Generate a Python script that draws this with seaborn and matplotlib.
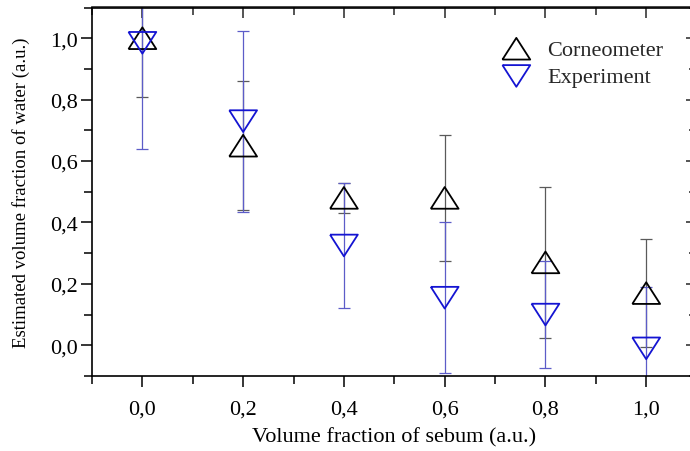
import matplotlib
matplotlib.use('Agg')
import matplotlib.pyplot as plt
import seaborn as sns
from matplotlib.ticker import MultipleLocator, FixedLocator, FuncFormatter

# Values
sebum = [0.0, 0.2, 0.4, 0.6, 0.8, 1.0]
corneometer = [1.00, 0.65, 0.48, 0.48, 0.27, 0.17]
corneometer_err = [0.19, 0.21, 0.05, 0.205, 0.245, 0.175]
experiment = [0.985, 0.73, 0.325, 0.155, 0.10, -0.01]
experiment_err = [0.345, 0.295, 0.205, 0.245, 0.175, 0.20]

x_ticks = [0.0, 0.2, 0.4, 0.6, 0.8, 1.0]
y_ticks = [0.0, 0.2, 0.4, 0.6, 0.8, 1.0]

sns.set_theme(style='ticks')
plt.rcParams['font.family'] = ['Liberation Serif', 'DejaVu Serif']

fig = plt.figure(figsize=(6.9, 4.52), dpi=100)
ax = fig.add_axes([92 / 690, 1 - 377 / 452, (696.6 - 92) / 690, (377 - 8.5) / 452])

# error bars first, markers on top
ax.errorbar(sebum, corneometer, yerr=corneometer_err, fmt='none',
            ecolor='#5a5a5a', elinewidth=0.9, capsize=4.6, capthick=0.9, zorder=1)
ax.errorbar(sebum, experiment, yerr=experiment_err, fmt='none',
            ecolor='#5c5cc8', elinewidth=0.9, capsize=4.6, capthick=0.9, zorder=2)

up_tri = [(-1, -0.78), (1, -0.78), (0, 0.78), (-1, -0.78)]
down_tri = [(-1, 0.78), (1, 0.78), (0, -0.78), (-1, 0.78)]

sns.scatterplot(x=sebum, y=corneometer, ax=ax, marker=up_tri, s=400,
                color='black', facecolor='none', edgecolor='black',
                linewidth=1.3, label='Corneometer', zorder=3)
sns.scatterplot(x=sebum, y=experiment, ax=ax, marker=down_tri, s=400,
                color='#1414d2', facecolor='none', edgecolor='#1414d2',
                linewidth=1.3, label='Experiment', zorder=4)

ax.set_xlim(-0.1, 1.1)
ax.set_ylim(-0.1, 1.1)

comma = FuncFormatter(lambda v, pos: f'{v:.1f}'.replace('.', ','))
ax.xaxis.set_major_locator(FixedLocator(x_ticks))
ax.yaxis.set_major_locator(FixedLocator(y_ticks))
ax.xaxis.set_minor_locator(MultipleLocator(0.1))
ax.yaxis.set_minor_locator(MultipleLocator(0.1))
ax.xaxis.set_major_formatter(comma)
ax.yaxis.set_major_formatter(comma)

ax.tick_params(axis='both', which='major', direction='out', length=8, width=1.1,
               labelsize=16, color='black', labelcolor='black')
ax.tick_params(axis='both', which='minor', direction='out', length=6, width=1.1,
               color='black')
ax.tick_params(axis='x', which='major', pad=9)
ax.tick_params(axis='y', which='major', pad=2)

for side in ['left', 'bottom', 'top', 'right']:
    ax.spines[side].set_visible(True)
    ax.spines[side].set_color('black')
    ax.spines[side].set_linewidth(1.2)

# inward ticks on the top and right spines
top = ax.secondary_xaxis('top')
top.xaxis.set_major_locator(FixedLocator(x_ticks))
top.xaxis.set_minor_locator(MultipleLocator(0.1))
top.tick_params(which='major', direction='in', length=8, width=1.1, labeltop=False)
top.tick_params(which='minor', direction='in', length=6, width=1.1)
top.spines['top'].set_linewidth(1.2)

right = ax.secondary_yaxis('right')
right.yaxis.set_major_locator(FixedLocator(y_ticks))
right.yaxis.set_minor_locator(MultipleLocator(0.1))
right.tick_params(which='major', direction='in', length=8, width=1.1, labelright=False)
right.tick_params(which='minor', direction='in', length=6, width=1.1)
right.spines['right'].set_linewidth(1.2)

ax.set_xlabel('Volume fraction of sebum (a.u.)', fontsize=16, color='black')
ax.set_ylabel('Estimated volume fraction of water (a.u.)', fontsize=13.5, color='black')
ax.xaxis.set_label_coords(0.5, -0.138, transform=ax.transAxes)
ax.yaxis.set_label_coords(-0.102, 0.5, transform=ax.transAxes)

ax.legend(loc='upper left', bbox_to_anchor=(503 / 690, 1 - 40 / 452),
          bbox_transform=fig.transFigure, frameon=False, fontsize=16,
          handlelength=1.2, handletextpad=0.8, borderpad=0, borderaxespad=0,
          labelspacing=0.3, scatterpoints=1)

fig.savefig('out.png', dpi=100)
